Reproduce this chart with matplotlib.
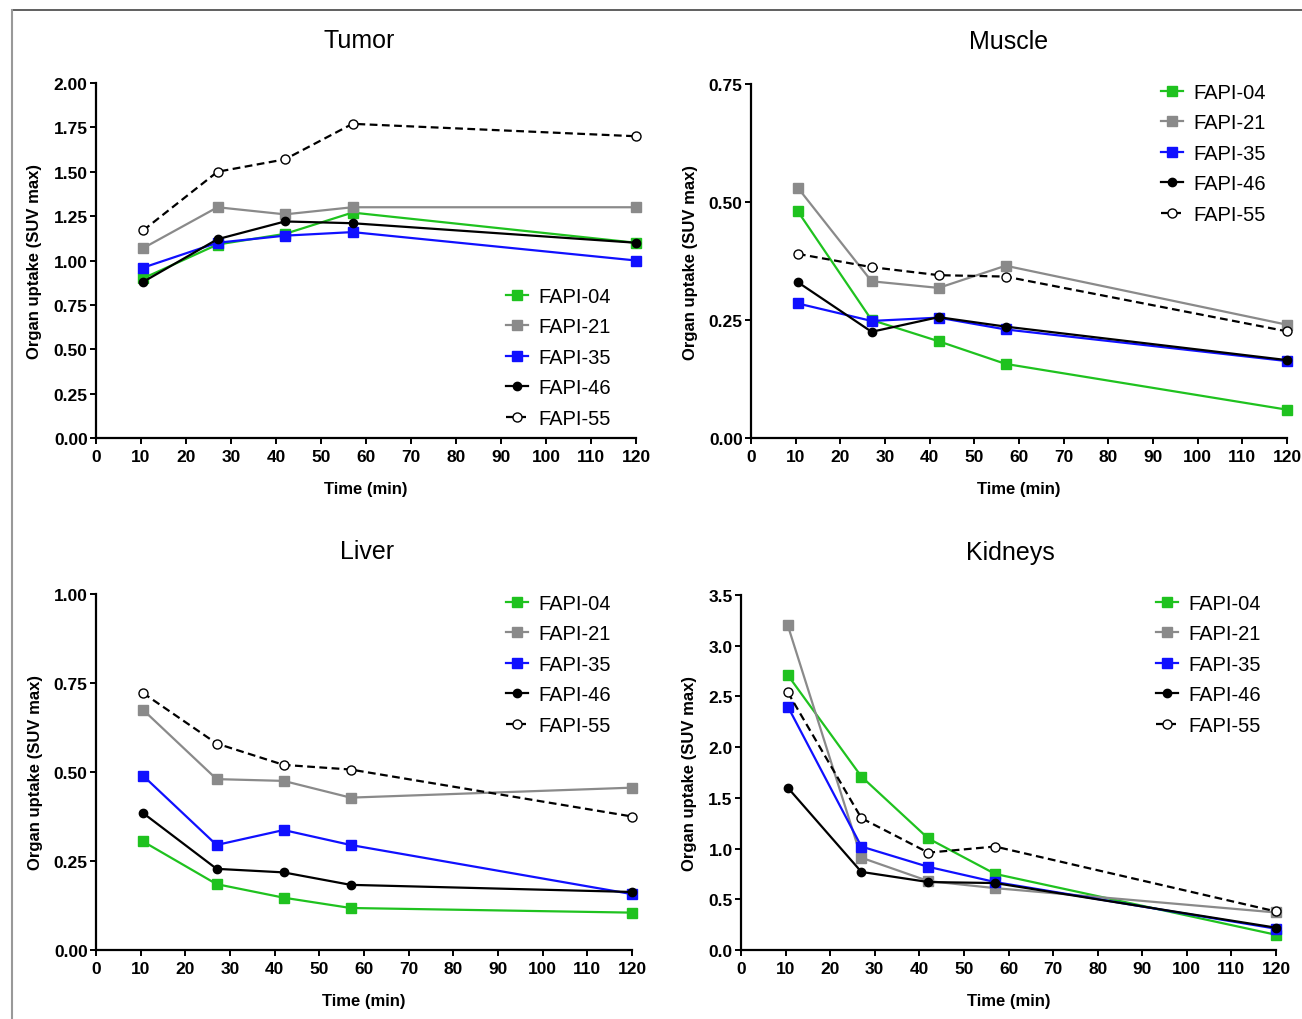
import matplotlib.pyplot as plt
from matplotlib.lines import Line2D
from matplotlib.ticker import FormatStrFormatter
import numpy as np

plt.rcParams['font.family'] = ['Liberation Sans', 'DejaVu Sans']

W, H = 1302, 1020
fig = plt.figure(figsize=(W / 100, H / 100), dpi=100)

times = [10.5, 27, 42, 57, 120]
names = ["FAPI-04", "FAPI-21", "FAPI-35", "FAPI-46", "FAPI-55"]

tumor = {
    "FAPI-04": [0.90, 1.09, 1.15, 1.27, 1.10],
    "FAPI-21": [1.07, 1.30, 1.26, 1.30, 1.30],
    "FAPI-35": [0.96, 1.10, 1.14, 1.16, 1.00],
    "FAPI-46": [0.88, 1.12, 1.22, 1.21, 1.10],
    "FAPI-55": [1.17, 1.50, 1.57, 1.77, 1.70],
}
muscle = {
    "FAPI-04": [0.48, 0.25, 0.205, 0.157, 0.06],
    "FAPI-21": [0.53, 0.332, 0.318, 0.365, 0.24],
    "FAPI-35": [0.285, 0.248, 0.255, 0.23, 0.163],
    "FAPI-46": [0.33, 0.225, 0.256, 0.236, 0.165],
    "FAPI-55": [0.39, 0.362, 0.345, 0.342, 0.226],
}
liver = {
    "FAPI-04": [0.305, 0.185, 0.147, 0.118, 0.105],
    "FAPI-21": [0.675, 0.48, 0.475, 0.428, 0.456],
    "FAPI-35": [0.49, 0.295, 0.337, 0.295, 0.157],
    "FAPI-46": [0.385, 0.228, 0.218, 0.183, 0.163],
    "FAPI-55": [0.722, 0.58, 0.52, 0.507, 0.375],
}
kidneys = {
    "FAPI-04": [2.71, 1.71, 1.10, 0.75, 0.15],
    "FAPI-21": [3.20, 0.91, 0.68, 0.61, 0.37],
    "FAPI-35": [2.40, 1.02, 0.82, 0.67, 0.21],
    "FAPI-46": [1.60, 0.77, 0.67, 0.66, 0.22],
    "FAPI-55": [2.54, 1.30, 0.96, 1.02, 0.38],
}

styles = {
    "FAPI-04": dict(color='#1fc21f', marker='s', ls='-', mfc='#1fc21f', mec='#1fc21f', ms=7),
    "FAPI-21": dict(color='#8a8a8a', marker='s', ls='-', mfc='#8a8a8a', mec='#8a8a8a', ms=7),
    "FAPI-35": dict(color='#1010ff', marker='s', ls='-', mfc='#1010ff', mec='#1010ff', ms=7),
    "FAPI-46": dict(color='black', marker='o', ls='-', mfc='black', mec='black', ms=6),
    "FAPI-55": dict(color='black', marker='o', ls=(0, (3.5, 2)), mfc='white', mec='black', ms=6.5, mew=1),
}

# panel: title, data, ymax, ystep, fmt, axes box (px: left, top, right, bottom),
# legend anchor px, title centre x px
panels = [
    ("Tumor", tumor, 2.0, 0.25, '%.2f', (96, 84, 636, 439), (506, 288), 359),
    ("Muscle", muscle, 0.75, 0.25, '%.2f', (751, 85, 1287, 439), (1161, 84), 1009),
    ("Liver", liver, 1.0, 0.25, '%.2f', (96, 595, 632, 951), (506, 595), 367),
    ("Kidneys", kidneys, 3.5, 0.5, '%.1f', (741, 596, 1276, 951), (1156, 595), 1010),
]

for title, data, ymax, ystep, fmt, box, leg, tx in panels:
    l, t, r, b = box
    ax = fig.add_axes([l / W, 1 - b / H, (r - l) / W, (b - t) / H])
    for n in names:
        st = styles[n]
        ax.plot(times, data[n], label=n, lw=1.6, clip_on=False, zorder=3, **st)
    ax.set_xlim(0, 120)
    ax.set_ylim(0, ymax)
    ax.set_xticks(np.arange(0, 121, 10))
    ax.set_yticks(np.arange(0, ymax + 1e-9, ystep))
    ax.yaxis.set_major_formatter(FormatStrFormatter(fmt))
    for s in ['top', 'right']:
        ax.spines[s].set_visible(False)
    for s in ['left', 'bottom']:
        ax.spines[s].set_linewidth(1.6)
    ax.tick_params(direction='out', length=4, width=1.4, labelsize=12.5, pad=2)
    ax.tick_params(axis='x', pad=4)
    for lab in ax.get_xticklabels() + ax.get_yticklabels():
        lab.set_fontweight('bold')
    ax.set_xlabel("Time (min)", fontsize=12, fontweight='bold', labelpad=12)
    ax.set_ylabel("Organ uptake (SUV max)", fontsize=12, fontweight='bold', labelpad=8)
    ax.set_title(title, fontsize=18, pad=26, x=(tx - l) / (r - l))
    lg = ax.legend(loc='upper left', frameon=False, fontsize=14.5,
                   handlelength=1.1, handletextpad=0.5, labelspacing=0.57,
                   borderpad=0, borderaxespad=0)
    lg.set_bbox_to_anchor((leg[0] / W, 1 - leg[1] / H), transform=fig.transFigure)

# outer frame lines
fig.add_artist(Line2D([12 / W, 1], [1 - 11 / H, 1 - 11 / H], color='#444444', lw=1.2))
fig.add_artist(Line2D([12 / W, 12 / W], [0, 1 - 11 / H], color='#999999', lw=1.5))

fig.savefig('out.png', dpi=100)
